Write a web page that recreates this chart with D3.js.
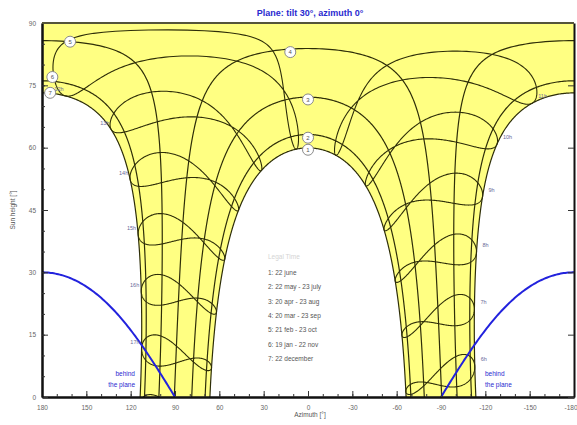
<!DOCTYPE html>
<html>
<head>
<meta charset="utf-8">
<script src="https://cdn.jsdelivr.net/npm/d3@7"></script>
<style>
  body { margin: 0; background: #fff; }
  svg { display: block; font-family: "Liberation Sans", Arial, sans-serif; }
</style>
</head>
<body>
<svg id="chart" width="577" height="425"></svg>
<script>
// site and plane (noon heights 60° in june, 73° in december)
const latitude = -6.6;
const timeShift = 19; // minutes between legal time and mean solar time
const planeTilt = 30;
const planeAzimuth = 0;

// sun path dates (day of year) and legend
const dateDays = [173, 142, 110, 79, 52, 19, 356];
const dateLegend = [
  "1: 22 june",
  "2: 22 may - 23 july",
  "3: 20 apr - 23 aug",
  "4: 20 mar - 23 sep",
  "5: 21 feb - 23 oct",
  "6: 19 jan - 22 nov",
  "7: 22 december"
];
// numbered marks [azimuth, height]
const dateMarks = [[0, 59.5], [0, 62.4], [0, 71.6], [12, 83], [161, 85.5], [173, 77], [174.5, 73.2]];

// legal hours drawn as hour lines, and the ones that get a label
const hours = [6, 7, 8, 9, 10, 11, 12, 13, 14, 15, 16, 17, 18];
const hourLabels = ["6h", "7h", "8h", "9h", "10h", "11h", "12h", "13h", "14h", "15h", "16h", "17h"];

const xTicks = [180, 150, 120, 90, 60, 30, 0, -30, -60, -90, -120, -150, -180];
const yTicks = [0, 15, 30, 45, 60, 75, 90];

const plotLeft = 42, plotRight = 574, plotTop = 23, plotBottom = 397;

const svg = d3.select("#chart");

const x = d3.scaleLinear().domain([180, -180]).range([plotLeft, plotRight]);
const y = d3.scaleLinear().domain([0, 90]).range([plotBottom, plotTop]);

// --- sun geometry --- //
const rad = Math.PI / 180;

function declination(n) {
  const g = 2 * Math.PI * (n - 1) / 365;
  return (0.006918 - 0.399912 * Math.cos(g) + 0.070257 * Math.sin(g)
    - 0.006758 * Math.cos(2 * g) + 0.000907 * Math.sin(2 * g)
    - 0.002697 * Math.cos(3 * g) + 0.00148 * Math.sin(3 * g)) / rad;
}

function eqTime(n) {
  const g = 2 * Math.PI * (n - 1) / 365;
  return 229.18 * (0.000075 + 0.001868 * Math.cos(g) - 0.032077 * Math.sin(g)
    - 0.014615 * Math.cos(2 * g) - 0.040849 * Math.sin(2 * g));
}

// azimuth from the equator side (north here), west positive
function sunPos(decl, ha) {
  const p = latitude * rad, d = decl * rad, w = ha * rad;
  const sh = Math.sin(p) * Math.sin(d) + Math.cos(p) * Math.cos(d) * Math.cos(w);
  const north = Math.cos(p) * Math.sin(d) - Math.sin(p) * Math.cos(d) * Math.cos(w);
  const west = Math.cos(d) * Math.sin(w);
  return [Math.atan2(west, north) / rad, Math.asin(sh) / rad];
}

function dayPath(n) {
  const d = declination(n);
  const h0 = Math.acos(-Math.tan(latitude * rad) * Math.tan(d * rad)) / rad;
  const pts = [];
  for (let ha = -h0; ha < h0; ha += 0.25) pts.push(sunPos(d, ha));
  pts.push(sunPos(d, h0));
  return pts;
}

function hourPath(hr) {
  const pts = [];
  for (let n = 1; n <= 366; n++) {
    const day = n > 365 ? 1 : n;
    const solar = hr * 60 + timeShift + eqTime(day);
    pts.push(sunPos(declination(day), (solar / 60 - 12) * 15));
  }
  return pts;
}

// break a path where it crosses the ±180 seam
function splitWrap(pts) {
  const segs = [[]];
  pts.forEach((p, i) => {
    const prev = pts[i - 1];
    if (i > 0 && Math.abs(p[0] - prev[0]) > 180) {
      segs[segs.length - 1].push([Math.sign(prev[0]) * 180, prev[1]]);
      segs.push([[Math.sign(p[0]) * 180, p[1]]]);
    }
    segs[segs.length - 1].push(p);
  });
  return segs;
}

const line = d3.line().x((d) => x(d[0])).y((d) => y(d[1]));

// clip
svg.append("clipPath").attr("id", "plot")
  .append("rect").attr("x", plotLeft).attr("y", plotTop)
  .attr("width", plotRight - plotLeft).attr("height", plotBottom - plotTop);

const plot = svg.append("g").attr("clip-path", "url(#plot)");

// --- yellow area swept by the sun --- //
plot.append("rect")
  .attr("x", plotLeft).attr("y", plotTop)
  .attr("width", plotRight - plotLeft).attr("height", plotBottom - plotTop)
  .attr("fill", "#ffff82");

const june = dayPath(dateDays[0]).filter((p) => p[1] >= 0);
const dec = dayPath(dateDays[6]);
const decAfternoon = dec.filter((p) => p[0] > 0);
const decMorning = dec.filter((p) => p[0] < 0);

const whiteAreas = [
  june,
  [[180, 0], [180, decAfternoon[decAfternoon.length - 1][1]]].concat(decAfternoon.slice().reverse()),
  [[-180, 0], [-180, decMorning[decMorning.length - 1][1]]].concat(decMorning.slice().reverse())
];

plot.selectAll(".white")
  .data(whiteAreas)
  .enter()
  .append("path")
  .attr("class", "white")
  .attr("d", (d) => line(d) + "Z")
  .attr("fill", "#fff");

// hour lines (analemmas)
const hourGroup = plot.append("g")
  .attr("fill", "none")
  .attr("stroke", "#2e2e08")
  .attr("stroke-width", 1.1);

hours.forEach((hr) => {
  hourGroup.selectAll(null)
    .data(splitWrap(hourPath(hr)))
    .enter()
    .append("path")
    .attr("d", line);
});

// date paths
const dateGroup = plot.append("g")
  .attr("fill", "none")
  .attr("stroke", "#2e2e08")
  .attr("stroke-width", 1.2);

dateDays.forEach((n) => {
  dateGroup.selectAll(null)
    .data(splitWrap(dayPath(n)))
    .enter()
    .append("path")
    .attr("d", line);
});

// behind the plane limit
const behind = [];
for (let az = -180; az <= 180; az += 1) {
  const t = -Math.tan(planeTilt * rad) * Math.cos((az - planeAzimuth) * rad);
  behind.push([az, Math.atan(t) / rad]);
}
plot.selectAll(".behind")
  .data([behind.filter((p) => p[0] >= 90), behind.filter((p) => p[0] <= -90)])
  .enter()
  .append("path")
  .attr("class", "behind")
  .attr("d", line)
  .attr("fill", "none")
  .attr("stroke", "#2222dd")
  .attr("stroke-width", 2);

// hour labels at the december end of each line
hourLabels.forEach((lab, i) => {
  const d = declination(dateDays[6]);
  const solar = hours[i] * 60 + timeShift + eqTime(dateDays[6]);
  const p = sunPos(d, (solar / 60 - 12) * 15);
  if (p[1] < 0) return;
  const west = p[0] > 0;
  svg.append("text")
    .attr("x", x(p[0]) + (west ? -2 : 6))
    .attr("y", y(p[1]) - 5)
    .attr("text-anchor", west ? "end" : "start")
    .attr("font-size", 5.5)
    .attr("fill", "#6a6a9a")
    .text(lab);
});

// numbered marks
const marks = svg.append("g").selectAll("g")
  .data(dateMarks)
  .enter()
  .append("g")
  .attr("transform", (d) => `translate(${x(d[0])},${y(d[1])})`);
marks.append("circle")
  .attr("r", 5.5)
  .attr("fill", "#fff")
  .attr("stroke", "#8a8a8a")
  .attr("stroke-width", 1);
marks.append("text")
  .attr("text-anchor", "middle")
  .attr("dy", "0.35em")
  .attr("font-size", 6)
  .attr("fill", "#555")
  .text((d, i) => i + 1);

// --- axes --- //
const xAxis = svg.append("g")
  .attr("transform", `translate(0,${plotBottom})`)
  .call(d3.axisBottom(x).tickValues(xTicks).tickSize(-6).tickSizeOuter(0).tickPadding(8)
    .tickFormat((d) => String(d)));
// last label would run off the page
xAxis.selectAll(".tick text").filter((d) => d === -180).attr("text-anchor", "end").attr("dx", 3);
svg.append("g")
  .attr("transform", `translate(0,${plotBottom})`)
  .call(d3.axisBottom(x).tickValues(d3.range(-170, 180, 10)).tickSize(-3).tickSizeOuter(0).tickFormat(""));

svg.append("g")
  .attr("transform", `translate(${plotLeft},0)`)
  .call(d3.axisLeft(y).tickValues(yTicks).tickSize(-6).tickSizeOuter(0).tickPadding(6));
svg.append("g")
  .attr("transform", `translate(${plotLeft},0)`)
  .call(d3.axisLeft(y).tickValues(d3.range(5, 90, 5)).tickSize(-3).tickSizeOuter(0).tickFormat(""));
svg.append("g")
  .attr("transform", `translate(${plotRight},0)`)
  .call(d3.axisRight(y).tickValues(yTicks).tickSize(-6).tickSizeOuter(0).tickFormat(""));

svg.selectAll(".domain").attr("stroke", "#111").attr("stroke-width", 2);
svg.selectAll(".tick line").attr("stroke", "#333");
svg.selectAll(".tick text").attr("font-size", 6.5).attr("fill", "#666")
  .attr("font-family", "Liberation Sans, Arial, sans-serif");

// top border
svg.append("line")
  .attr("x1", plotLeft).attr("x2", plotRight)
  .attr("y1", plotTop).attr("y2", plotTop)
  .attr("stroke", "#55553a").attr("stroke-width", 2);

// --- texts --- //
svg.append("text")
  .attr("x", 310).attr("y", 16)
  .attr("text-anchor", "middle")
  .attr("font-size", 9)
  .attr("font-weight", "bold")
  .attr("fill", "#2a2ad0")
  .text("Plane: tilt 30°, azimuth 0°");

svg.append("text")
  .attr("x", 310).attr("y", 417)
  .attr("text-anchor", "middle")
  .attr("font-size", 6.5)
  .attr("fill", "#555")
  .text("Azimuth [°]");

svg.append("text")
  .attr("transform", "translate(15,210) rotate(-90)")
  .attr("text-anchor", "middle")
  .attr("font-size", 6.5)
  .attr("fill", "#555")
  .text("Sun height [°]");

[[135, "end"], [485, "start"]].forEach(([tx, anchor]) => {
  svg.append("text")
    .attr("x", tx).attr("y", 376)
    .attr("text-anchor", anchor)
    .attr("font-size", 6.5)
    .attr("fill", "#2a2ad0")
    .selectAll("tspan")
    .data(["behind", "the plane"])
    .enter()
    .append("tspan")
    .attr("x", tx)
    .attr("dy", (d, i) => (i ? 11 : 0))
    .text((d) => d);
});

// legend
const legend = svg.append("g").attr("transform", "translate(268,0)");
legend.append("text")
  .attr("y", 259)
  .attr("font-size", 6.5)
  .attr("fill", "#d4d4d4")
  .text("Legal Time");
legend.selectAll(".entry")
  .data(dateLegend)
  .enter()
  .append("text")
  .attr("class", "entry")
  .attr("y", (d, i) => 275 + i * 14.3)
  .attr("font-size", 6.5)
  .attr("fill", "#555")
  .text((d) => d);
</script>
</body>
</html>
